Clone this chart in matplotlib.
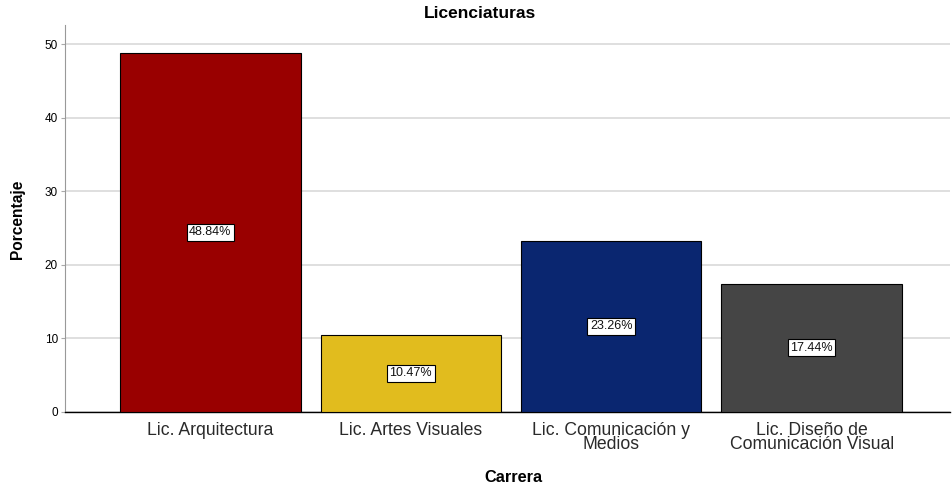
import matplotlib
matplotlib.use("Agg")
import matplotlib.pyplot as plt

categories = ["Lic. Arquitectura", "Lic. Artes Visuales", "Lic. Comunicación y\nMedios", "Lic. Diseño de\nComunicación Visual"]
values = [48.84, 10.47, 23.26, 17.44]
labels = ["48.84%", "10.47%", "23.26%", "17.44%"]
colors = ["#990000", "#E1BC1E", "#0A2670", "#454545"]
yticks = [0, 10, 20, 30, 40, 50]

plt.rcParams['font.family'] = ['Liberation Sans', 'DejaVu Sans']

fig = plt.figure(figsize=(9.52, 4.88), dpi=100)
ax = fig.add_axes([65/952, 1-412/488, (950-65)/952, (412-25)/488])

x = list(range(len(categories)))
ax.bar(x, values, width=0.9, color=colors, edgecolor="black", linewidth=0.8, zorder=3)
for xi, v, lab in zip(x, values, labels):
    ax.text(xi, v/2, lab, ha="center", va="center", fontsize=9, color="#111111", zorder=4,
            bbox=dict(boxstyle="square,pad=0.2", facecolor="white", edgecolor="black", linewidth=0.8))

ax.set_xlim(-0.725, 3.69)
ax.set_ylim(0, 52.6)
ax.set_yticks(yticks)
ax.set_xticks(x)
ax.set_xticklabels(categories, fontsize=12.7, color="#2a2a2a", linespacing=0.82)
ax.tick_params(axis="x", length=0, pad=7)
ax.tick_params(axis="y", labelsize=8.5, length=3, color="#aaaaaa", pad=2)
ax.yaxis.grid(True, color="#d9d9d9", linewidth=1.2, zorder=0)
ax.set_axisbelow(True)
for s in ["top", "right"]:
    ax.spines[s].set_visible(False)
ax.spines["left"].set_color("#999999")
ax.spines["bottom"].set_color("black")
ax.spines["bottom"].set_linewidth(1.0)

fig.text(18/952, 1-219/488, "Porcentaje", rotation=90, ha="center", va="center", fontsize=11.2, fontweight="bold")
fig.text(513/952, 1-477/488, "Carrera", ha="center", va="center", fontsize=11.8, fontweight="bold")
fig.text(480/952, 1-14/488, "Licenciaturas", ha="center", va="center", fontsize=12.5, fontweight="bold")

fig.savefig("out.png", dpi=100)
